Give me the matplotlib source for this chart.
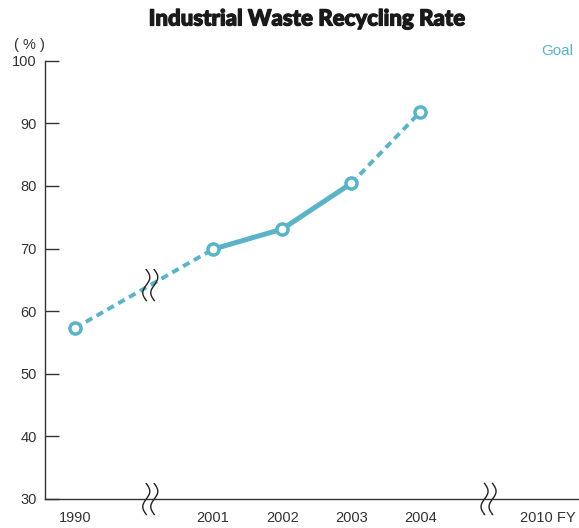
import numpy as np
import matplotlib
matplotlib.use("Agg")
import matplotlib.pyplot as plt
import matplotlib.patheffects as pe
from matplotlib.transforms import ScaledTranslation

# Fiscal-year labels and their horizontal slots (slot gaps mark the broken axis)
years = ['1990', '2001', '2002', '2003', '2004', '2010 FY']
slots = [1, 3, 4, 5, 6, 7.85]
# Recycling rate (%) for 1990-2004; 2004 is the target value
rates = [57.3, 69.9, 73.1, 80.4, 91.8]
yticks = [30, 40, 50, 60, 70, 80, 90, 100]

TEAL = '#5ab4c6'
INK = '#333333'

plt.rcParams['font.family'] = ['Liberation Sans', 'DejaVu Sans']

fig = plt.figure(figsize=(5.79, 5.28), dpi=100)
ax = fig.add_axes([45 / 579, 1 - 499 / 528, 1 - 45 / 579, (499 - 60.7) / 528])
ax.set_xlim(0.565, 8.30)
ax.set_ylim(30, 100)

xs = slots[:len(rates)]

# 1990 -> 2001 estimated trend (dashed), 2001 -> 2003 actual (solid), 2003 -> 2004 goal (dashed)
dash_kw = dict(color=TEAL, lw=2.8, linestyle=(0, (1.9, 1.3)), dash_capstyle='butt', zorder=2)
ax.plot(xs[0:2], rates[0:2], **dash_kw)
ax.plot(xs[1:4], rates[1:4], color=TEAL, lw=3.6, solid_capstyle='round', zorder=2)
ax.plot(xs[3:5], rates[3:5], **dash_kw)
ax.plot(xs, rates, linestyle='none', marker='o', ms=8.0, mew=2.5,
        mfc='white', mec=TEAL, zorder=3)

# Axis styling
for side in ('top', 'right'):
    ax.spines[side].set_visible(False)
ax.spines['left'].set_color(INK)
ax.spines['left'].set_linewidth(1.0)
ax.spines['bottom'].set_color(INK)
ax.spines['bottom'].set_linewidth(1.0)

ax.set_yticks(yticks)
ax.set_yticklabels([str(v) for v in yticks])
ax.tick_params(axis='y', direction='in', length=10, width=1, color=INK,
               labelsize=10.5, labelcolor=INK, pad=6)
ax.set_xticks(slots)
ax.set_xticklabels(years)
ax.tick_params(axis='x', length=0, labelsize=10.5, labelcolor=INK, pad=9)


def wave_break(x0, y0):
    """Draw a pair of wavy break strokes centred at data point (x0, y0)."""
    t = np.linspace(0, 1, 80)
    h = 0.31
    amp = 0.035
    ys = (t - 0.5) * h
    base = -amp * np.sin(2 * np.pi * t)
    trans = fig.dpi_scale_trans + ScaledTranslation(x0, y0, ax.transData)
    for dx in (-0.04, 0.04):
        ax.plot(base + dx, ys, color='#222222', lw=1.0, transform=trans,
                clip_on=False, zorder=4)


xb1 = 2.09
xb2 = 6.99
yb1 = np.interp(xb1, xs[0:2], rates[0:2])
wave_break(xb1, 30)
wave_break(xb2, 30)
wave_break(xb1, yb1)

fig.text(307 / 579, 1 - 19 / 528, 'Industrial Waste Recycling Rate',
         ha='center', va='center', fontsize=16, fontweight='black',
         family=['Lato', 'DejaVu Sans'], color='#1a1a1a',
         path_effects=[pe.withStroke(linewidth=0.9, foreground='#1a1a1a')])
fig.text(29 / 579, 1 - 45 / 528, '( % )', ha='center', va='center',
         fontsize=10.5, color=INK)
fig.text(557 / 579, 1 - 51 / 528, 'Goal', ha='center', va='center',
         fontsize=11, color=TEAL)

fig.savefig('out.png', dpi=100)
